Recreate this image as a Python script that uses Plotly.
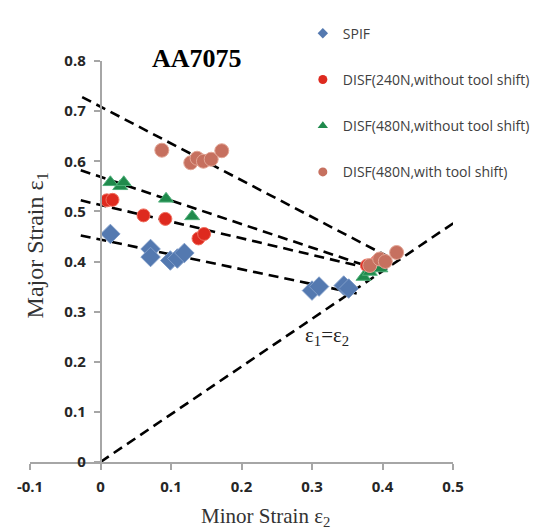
import plotly.graph_objects as go

# ---- data ----
spif_x = [0.014, 0.071, 0.071, 0.099, 0.109, 0.119, 0.300, 0.310, 0.345, 0.352]
spif_y = [0.455, 0.425, 0.409, 0.402, 0.406, 0.417, 0.342, 0.350, 0.352, 0.346]

d240_x = [0.009, 0.017, 0.061, 0.092, 0.139, 0.147, 0.378, 0.392]
d240_y = [0.522, 0.523, 0.492, 0.485, 0.446, 0.455, 0.392, 0.400]

d480_x = [0.014, 0.028, 0.033, 0.093, 0.130, 0.373, 0.382, 0.397]
d480_y = [0.558, 0.550, 0.558, 0.525, 0.490, 0.369, 0.379, 0.386]

shift_x = [0.087, 0.128, 0.137, 0.146, 0.157, 0.172, 0.382, 0.396, 0.404, 0.420]
shift_y = [0.622, 0.597, 0.606, 0.600, 0.604, 0.621, 0.392, 0.405, 0.400, 0.418]

# dashed trend lines (end points)
line_shift_x = [-0.026, 0.406]
line_shift_y = [0.728, 0.411]
line_480_x = [-0.028, 0.397]
line_480_y = [0.582, 0.382]
line_240_x = [-0.028, 0.382]
line_240_y = [0.522, 0.386]
line_spif_x = [-0.028, 0.364]
line_spif_y = [0.452, 0.336]
diag_x = [0.0, 0.52]
diag_y = [0.0, 0.495]

x_ticks = [-0.1, 0, 0.1, 0.2, 0.3, 0.4, 0.5]
x_tick_text = ["-0.1", "0", "0.1", "0.2", "0.3", "0.4", "0.5"]
y_ticks = [0, 0.1, 0.2, 0.3, 0.4, 0.5, 0.6, 0.7, 0.8]
y_tick_text = ["0", "0.1", "0.2", "0.3", "0.4", "0.5", "0.6", "0.7", "0.8"]

names = ["SPIF", "DISF(240N,without tool shift)", "DISF(480N,without tool shift)",
         "DISF(480N,with tool shift)"]

C_SPIF = "#5479b0"
C_240 = "#de2a1f"
C_480 = "#1f8a4c"
C_SHIFT = "#c6705f"

fig = go.Figure()

dash = "10px,6px"
for lx, ly in [(line_shift_x, line_shift_y), (line_480_x, line_480_y),
               (line_240_x, line_240_y), (line_spif_x, line_spif_y), (diag_x, diag_y)]:
    fig.add_trace(go.Scatter(x=lx, y=ly, mode="lines", showlegend=False,
                             line=dict(color="black", width=2.6, dash=dash),
                             hoverinfo="skip"))

series = [
    (spif_x, spif_y, "diamond", 15, C_SPIF, "#7f9cc8"),
    (d240_x, d240_y, "circle", 13, C_240, "#f07060"),
    (d480_x, d480_y, "triangle-up", 13, C_480, "#4fb07a"),
    (shift_x, shift_y, "circle", 14, C_SHIFT, "#e3a595"),
]
for (sx, sy, sym, sz, col, lcol), nm in zip(series, names):
    fig.add_trace(go.Scatter(x=sx, y=sy, mode="markers", showlegend=False, name=nm,
                             marker=dict(symbol=sym, size=sz, color=col,
                                         line=dict(color=lcol, width=1))))

# legend entries
leg_sizes = [8, 9, 9, 9]
for (sx, sy, sym, sz, col, lcol), nm, ls, i in zip(series, names, leg_sizes, range(4)):
    fig.add_trace(go.Scatter(x=[None], y=[None], mode="markers", name=nm,
                             legendgroup="g%d" % i,
                             marker=dict(symbol=sym, size=ls, color=col)))

axis_col = "#a6a6a6"
tickfont = dict(family="Open Sans", size=15, color="#262626", weight="bold")
fig.update_layout(
    width=539, height=529,
    margin=dict(l=30, r=86, t=61, b=67, autoexpand=False),
    paper_bgcolor="white", plot_bgcolor="white",
    xaxis=dict(range=[-0.1, 0.5], tickvals=x_ticks, ticktext=x_tick_text,
               showgrid=False, zeroline=False, showline=True, linecolor=axis_col,
               linewidth=1.5, ticks="outside", ticklen=6, tickcolor=axis_col,
               tickwidth=1.5, ticklabelstandoff=4, tickfont=tickfont),
    yaxis=dict(range=[0, 0.8], tickvals=y_ticks, ticktext=y_tick_text,
               anchor="free", position=1/6,
               showgrid=False, zeroline=False, showline=True, linecolor=axis_col,
               linewidth=1.5, ticks="outside", ticklen=6, tickcolor=axis_col,
               tickwidth=1.5, ticklabelstandoff=5, tickfont=tickfont),
    legend=dict(x=0.645, y=1.108, xanchor="left", yanchor="top",
                font=dict(family="Open Sans", size=14, color="#404040"),
                tracegroupgap=25, itemwidth=30, bgcolor="rgba(0,0,0,0)"),
    showlegend=True,
)

serif = "Liberation Serif"
fig.add_annotation(text="<b>AA7075</b>", xref="paper", yref="paper", x=0.395, y=1.007,
                   showarrow=False, font=dict(family=serif, size=26, color="black"),
                   xanchor="center", yanchor="middle")
fig.add_annotation(text="Major Strain ε<sub>1</sub>", xref="paper", yref="paper",
                   x=0.0165, y=0.54, textangle=-90, showarrow=False,
                   font=dict(family=serif, size=24, color="#333333"),
                   xanchor="center", yanchor="middle")
fig.add_annotation(text="Minor Strain ε<sub>2</sub>", xref="paper", yref="paper",
                   x=0.556, y=-0.136, showarrow=False,
                   font=dict(family=serif, size=21, color="#333333"),
                   xanchor="center", yanchor="middle")
fig.add_annotation(text="ε<sub>1</sub>=ε<sub>2</sub>", xref="x", yref="y",
                   x=0.321, y=0.251, showarrow=False,
                   font=dict(family=serif, size=21, color="#222222"),
                   xanchor="center", yanchor="middle")

fig.write_html("out.html", config={"displayModeBar": False},
               post_script="document.body.style.margin='0px';document.body.style.overflow='hidden';")
